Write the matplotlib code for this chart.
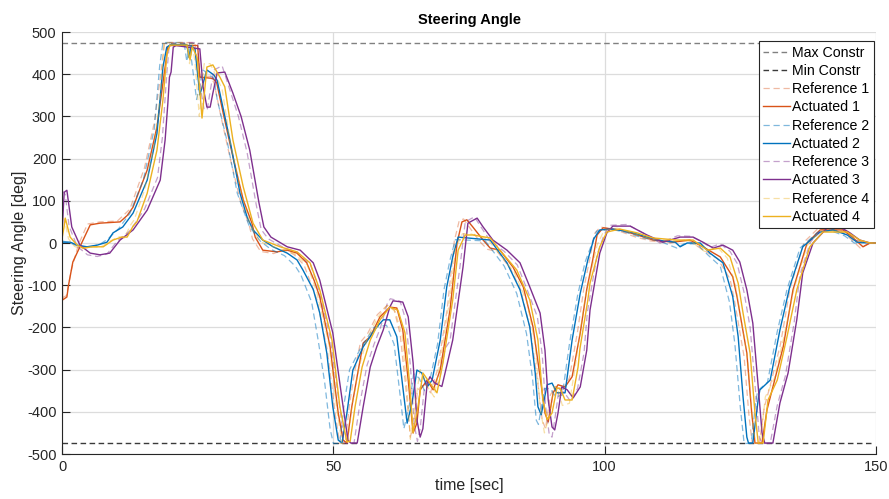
import matplotlib
matplotlib.use("Agg")
import matplotlib.pyplot as plt

# ---------------- data (time [sec], steering angle [deg]) ----------------
max_constr = 475
min_constr = -475
constr_t = [0, 149]

t_act1 = [0,0.1,0.9,1.2,2,3.3,5.2,7,10.7,12,13.1,15.7,17.5,18.6,19.5,20,25,25.4,27.8,28.5,29.7,31.5,33.4,35,35.6,37,39.6,41.5,43.3,45.1,46.5,47.5,49.4,50.9,51.8,52.5,53.4,54.5,55.5,56.8,58.6,60.4,61.7,62.8,63.8,64.7,65.4,66,67.3,68.4,69.7,71.5,72.8,73.7,74.6,75.7,77.6,78.9,80.7,83.1,85,86.8,88.1,89,89.6,90.5,91.4,92.7,94,95.5,96.7,97.8,98.6,99.7,102.8,106,108.9,112.6,115.7,118.1,121.3,123.6,124.4,126.2,127.1,127.7,129,129.9,131,132.9,134.7,137.3,139.7,143.9,145.8,147.6,148.9,150]
v_act1 = [-5,-135,-128,-100,-45,-9,43,47,50,65,85,173,275,379,464,468,468,393,390,380,308,204,102,47,14,-17,-21,-17,-24,-47,-90,-128,-246,-403,-467,-474,-388,-308,-237,-222,-175,-152,-154,-206,-325,-450,-427,-348,-325,-348,-300,-159,0,50,55,38,7,-12,-17,-57,-104,-199,-317,-403,-424,-355,-336,-341,-317,-213,-110,-40,19,36,31,19,7,2,7,-9,-33,-80,-128,-261,-403,-474,-474,-396,-341,-246,-111,0,31,31,12,-9,0,0]

t_ref1 = [0,0.8,1.8,3,4.7,7,10.2,12.5,15.2,17,18.2,18.9,24.5,25,27.3,28,29.2,31,32.9,34.5,35.1,36.6,39,41,42.8,44.6,47,48.9,50.4,51.2,52.2,53,54,55,56.3,58.1,59.9,61.2,62.3,63.3,64.2,64.9,65.5,66.8,67.9,69.2,71,72.3,73.2,74,75.2,77,78.4,80.2,82.6,84.5,86.3,87.6,88.5,89.1,90,90.9,92.2,93.5,95,96.2,97.3,98.1,99.2,102.3,105.5,108.4,112.1,115.2,117.6,120.8,123.1,123.9,125.7,126.6,127.2,128.5,129.4,130.5,132.4,134.2,136.8,139.2,143.4,145.3,147.1,148.9,150]
v_ref1 = [-130,-125,-60,-5,45,50,52,80,178,285,400,475,475,395,395,380,305,200,98,42,10,-20,-25,-15,-28,-52,-135,-255,-410,-475,-475,-380,-300,-235,-215,-170,-148,-158,-215,-335,-460,-420,-350,-330,-355,-300,-155,5,53,57,35,3,-15,-20,-60,-110,-205,-325,-420,-440,-360,-340,-350,-320,-210,-105,-35,22,38,30,15,5,0,8,-12,-37,-85,-135,-270,-410,-475,-475,-390,-338,-240,-105,3,33,30,10,-12,0,0]

t_act2 = [0,1.5,2.8,4.6,6.5,8.3,9.4,11.2,13.1,15.7,17.5,18.6,19.3,20,23,23.4,23.8,24.5,25.4,26.7,28,28.6,29.1,31,32.8,34.1,35.2,37,38.9,41.5,43.3,44.4,46.3,47.5,48.8,49.9,50.9,51.6,52.5,53.6,55.5,58,59.2,60.4,61.7,62.8,63.6,64.5,65.4,66.3,67.3,68.2,69.7,70.9,72,73,78.9,82,84.4,86.2,87.2,87.7,88.3,89.4,90.3,91.2,92.7,94,95.5,96.9,98,99.1,101.5,104.7,107.8,110.7,113,113.9,115.2,117.6,119.4,121.8,123.6,124.6,125.5,126.2,126.5,127.3,128.3,128.6,130.5,132.3,134.1,136.5,139.7,142.1,144.7,146.5,150]
v_act2 = [2,2,-5,-9,-5,2,24,38,71,149,260,417,464,470,470,440,468,460,351,410,398,385,355,240,118,62,31,7,-9,-24,-40,-64,-110,-166,-261,-388,-467,-474,-403,-301,-246,-199,-182,-182,-222,-341,-427,-379,-301,-308,-341,-325,-230,-104,-33,14,7,-47,-111,-199,-308,-388,-407,-336,-332,-355,-355,-230,-119,-40,10,31,33,26,14,5,2,-9,0,0,-24,-47,-127,-222,-365,-460,-474,-474,-370,-348,-325,-206,-104,-9,26,31,19,2,0]

t_ref2 = [0,1.5,3,5,7,8.5,10.5,12.5,15,17,18,18.6,22.5,23,23.5,24.8,26,28,28.6,30.5,32.3,34.5,36.5,38.5,41,43,44,46,47.2,48.4,49.4,50,51.2,52,53,55,57.5,59.8,61.2,62.3,63,64,64.8,65.8,66.8,67.7,69.2,70.4,71.5,72.5,78,81.5,83.8,85.6,86.7,87.4,87.8,88.9,90,91,92.2,93.5,95,96.4,98.5,101,104,107,110,113.3,114.6,117,119,121.3,123,124,125,125.7,127,127.8,128.2,130,131.8,133.6,136,139.2,141.5,144.2,146,150]
v_ref2 = [5,0,-8,-10,-3,10,35,70,150,270,420,475,475,430,470,340,410,390,340,237,118,40,5,-15,-30,-55,-75,-140,-230,-330,-440,-475,-475,-380,-300,-250,-200,-195,-240,-360,-440,-385,-310,-320,-350,-330,-240,-110,-40,8,5,-55,-120,-215,-320,-420,-430,-345,-345,-365,-360,-240,-125,-45,28,33,25,12,5,-12,-2,-2,-28,-55,-140,-240,-390,-475,-475,-380,-350,-330,-210,-110,-12,25,30,17,0,0]

t_act3 = [0,0.4,0.9,1.8,3.3,5.2,7,8.8,10.7,13.1,15.7,18.1,19,19.5,19.8,20.1,20.5,21,25.4,26,26.7,27.3,27.8,28.6,30,31.5,33,34.6,36.3,37.2,38.5,41.5,43.9,46.3,47.5,49.9,51.8,52.7,53.2,54.4,55.5,56.8,58,59.2,60.4,61,62.8,63.8,64.7,65.4,66,66.5,67.3,67.8,68.7,70,71.1,72,73.9,74.8,76.5,77.6,79.4,82,84.4,86.2,88.1,89,89.6,90.3,90.8,91.4,92.1,93.1,94.2,95.5,96.7,97.3,99.1,100.4,101.5,104.7,107.8,110.7,113.9,116.3,118.1,120,121.8,123.6,124.9,126.2,127.3,128.3,129,129.5,131,132.3,133.8,135.4,136.5,138.4,141,143.4,145.2,147,148.9,150]
v_act3 = [20,120,125,38,-5,-24,-28,-24,7,31,78,149,244,330,393,405,464,468,460,370,322,322,355,403,405,355,300,220,95,38,14,-9,-17,-47,-88,-213,-388,-467,-474,-474,-388,-294,-246,-206,-152,-137,-140,-175,-284,-419,-460,-440,-332,-317,-332,-340,-280,-230,-57,47,59,38,7,-17,-47,-104,-166,-254,-372,-436,-443,-403,-341,-348,-367,-341,-254,-159,-24,24,40,40,19,2,14,14,2,-12,-5,-17,-45,-111,-190,-341,-450,-474,-474,-379,-308,-182,-71,0,36,38,24,7,0,0]

t_ref3 = [0,0.6,1.3,2.8,4.7,6.5,8.3,10.2,12.6,15.2,17.6,18.5,19.3,19.8,25,25.5,26.2,26.8,27.3,28,29.5,31,32.5,34.1,35.8,36.7,38,41,43.4,45.8,47,49.4,51.3,52,53.8,54.9,56.2,57.5,58.7,59.9,60.5,62.3,63.3,64.2,64.9,65.5,66,66.8,67.3,68.2,69.5,70.6,71.5,73.4,74.3,76,77.1,78.9,81.5,83.9,85.7,87.6,88.5,89.1,89.8,90.3,90.9,91.6,92.6,93.7,95,96.2,96.8,98.6,99.9,101,104.2,107.3,110.2,113.4,115.8,117.6,119.5,121.3,123.1,124.4,125.7,126.8,127.8,128.5,129,130.5,131.8,133.3,134.9,136,137.9,140.5,142.9,144.7,146.5,148.9,150]
v_ref3 = [125,115,40,-8,-28,-32,-26,5,30,80,155,250,400,475,475,370,315,318,360,410,420,360,300,215,90,32,10,-12,-22,-52,-95,-222,-400,-475,-475,-380,-290,-240,-200,-145,-132,-138,-180,-290,-430,-470,-440,-340,-322,-340,-330,-250,-232,-50,50,62,40,5,-20,-52,-110,-175,-265,-385,-455,-460,-410,-345,-355,-375,-345,-260,-165,-28,20,42,44,22,0,17,16,5,-10,-2,-20,-48,-118,-200,-350,-460,-475,-475,-385,-315,-190,-75,2,40,40,26,6,0,0]

t_act4 = [0,0.4,0.6,1.5,2.8,3.9,5.7,7.6,9.4,11,12,13.1,13.8,15.7,17.5,18.6,19.35,19.9,23,23.6,24,24.9,25.8,26.7,27.8,29.1,30,31.5,33.4,35.2,37,40.2,43.3,45.7,47.5,49.75,51.2,52.5,53.1,54,55.3,56.8,58.6,60.4,61.9,63.2,64.1,64.7,65.6,66.5,67.8,69.1,70.2,72,73,74.3,75.7,78.9,80.7,83.8,86.2,87.7,88.6,89.4,90.3,91.2,91.8,92.7,94,95.1,95.45,96.9,97.3,99.1,100.4,102.8,106,108.9,113.3,116.3,118.9,121.3,123.1,124.6,125.5,126.8,127.7,128.3,129.2,130.1,131.8,133.6,135.4,137.8,140.2,144.7,147,148.9,150]
v_act4 = [10,40,59,14,-5,-12,-9,-9,7,14,14,40,50,118,220,339,450,469,469,434,465,440,296,417,422,393,370,244,133,47,7,-9,-21,-47,-111,-230,-388,-471,-470,-388,-294,-230,-182,-152,-159,-213,-341,-450,-388,-308,-332,-355,-284,-135,-17,19,19,12,-17,-64,-135,-230,-372,-419,-403,-344,-344,-372,-372,-294,-250,-135,-95,-9,26,33,24,12,7,7,-17,-12,-33,-95,-166,-261,-403,-474,-474,-372,-325,-222,-111,-9,26,26,7,0,0]

t_ref4 = [0,0.5,1.2,2.3,3.4,5.2,7.1,8.9,10.5,11.5,12.6,13.3,15.2,17,18.1,18.8,23,23.5,24,24.5,25.3,26.2,27.3,28.6,29.5,31,32.9,34.7,36.5,39.7,42.8,45.2,47,49.2,50.7,51.6,52.6,53.5,54.8,56.3,58.1,59.9,61.4,62.7,63.6,64.2,65.1,66,67.3,68.6,69.7,71.5,72.5,73.8,75.2,78.4,80.2,83.3,85.7,87.2,88.1,88.9,89.8,90.7,91.3,92.2,93.5,94.6,96.4,98.6,99.9,102.3,105.5,108.4,112.8,115.8,118.4,120.8,122.6,124.1,125,126.3,127.2,127.8,128.7,129.6,131.3,133.1,134.9,137.3,139.7,144.2,146.5,148.9,150]
v_ref4 = [60,55,10,-8,-14,-10,-10,5,15,12,42,55,125,230,350,475,475,425,470,430,300,425,425,390,365,240,128,42,3,-12,-25,-52,-118,-240,-400,-475,-475,-380,-290,-225,-178,-148,-162,-220,-350,-465,-380,-300,-340,-365,-280,-130,-12,22,22,10,-20,-68,-140,-240,-390,-450,-410,-340,-342,-385,-380,-290,-130,-5,30,35,22,10,5,5,-20,-10,-36,-100,-170,-270,-415,-475,-475,-365,-320,-218,-108,-6,28,28,5,0,0]

# ---------------- styling ----------------
c_blue = "#0072BD"
c_orange = "#D95319"
c_yellow = "#EDB120"
c_purple = "#7E2F8E"
dash_ref = (0, (5, 3))
dash_con = (0, (4, 2.5))

plt.rcParams["font.family"] = ["Liberation Sans", "DejaVu Sans"]
plt.rcParams["axes.unicode_minus"] = False

fig = plt.figure(figsize=(8.89, 4.99), dpi=100)
ax = fig.add_axes([62/889, 1-454/499, (876-62)/889, (454-32)/499])

ax.plot(constr_t, [max_constr]*2, color="#808080", lw=1.0, ls=dash_con, label="Max Constr")
ax.plot(constr_t, [min_constr]*2, color="#3a3a3a", lw=1.0, ls=dash_con, label="Min Constr")
ax.plot(t_ref1, v_ref1, color=c_orange, alpha=0.4, lw=0.9, ls=dash_ref, label="Reference 1")
ax.plot(t_act1, v_act1, color=c_orange, lw=1.0, label="Actuated 1")
ax.plot(t_ref2, v_ref2, color=c_blue, alpha=0.5, lw=0.9, ls=dash_ref, label="Reference 2")
ax.plot(t_act2, v_act2, color=c_blue, lw=1.0, label="Actuated 2")
ax.plot(t_ref3, v_ref3, color=c_purple, alpha=0.45, lw=0.9, ls=dash_ref, label="Reference 3")
ax.plot(t_act3, v_act3, color=c_purple, lw=1.0, label="Actuated 3")
ax.plot(t_ref4, v_ref4, color=c_yellow, alpha=0.4, lw=0.9, ls=dash_ref, label="Reference 4")
ax.plot(t_act4, v_act4, color=c_yellow, lw=1.0, label="Actuated 4")

ax.set_xlim(0, 150)
ax.set_ylim(-500, 500)
ax.set_xticks([0, 50, 100, 150])
ax.set_yticks(range(-500, 501, 100))
ax.grid(True, color="#dcdcdc", lw=0.9)
ax.set_axisbelow(True)
for s in ["top", "right"]:
    ax.spines[s].set_visible(False)
for s in ["left", "bottom"]:
    ax.spines[s].set_color("#262626")
    ax.spines[s].set_linewidth(0.8)
ax.tick_params(direction="in", length=6, width=0.8, colors="#262626",
               labelsize=10.5, pad=4)

ax.set_title("Steering Angle", fontsize=10.5, fontweight="bold", color="#000000", pad=6)
ax.set_xlabel("time [sec]", fontsize=11.5, color="#262626", labelpad=3)
ax.set_ylabel("Steering Angle [deg]", fontsize=11.5, color="#262626", labelpad=0)

leg = ax.legend(loc="upper right", bbox_to_anchor=(0.997, 0.978), borderaxespad=0,
                fontsize=10.2, frameon=True, fancybox=False, framealpha=1,
                edgecolor="#262626", handlelength=1.9, handletextpad=0.15,
                labelspacing=0.3, borderpad=0.3)
leg.get_frame().set_linewidth(0.8)

fig.savefig("out.png", dpi=100)
